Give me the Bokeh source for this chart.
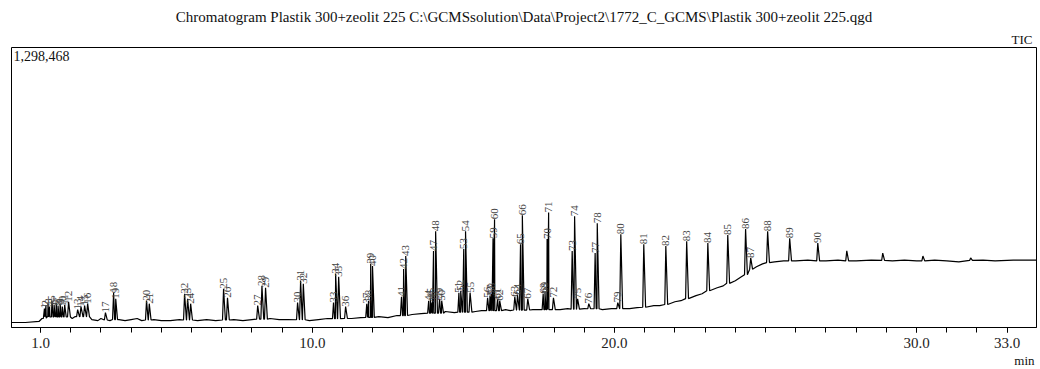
import numpy as np
from bokeh.plotting import figure
from bokeh.models import ColumnDataSource, Range1d, FixedTicker, NumeralTickFormatter, Label, Title
from bokeh.embed import file_html
from bokeh.resources import INLINE
from bokeh.core.properties import value

TITLE = "Chromatogram Plastik 300+zeolit 225 C:\\GCMSsolution\\Data\\Project2\\1772_C_GCMS\\Plastik 300+zeolit 225.qgd"
Y_MAX = 1298468
Y_LABEL = "1,298,468"

# baseline (retention time in min, intensity)
base_time = [0.04, 0.5, 0.95, 1.05, 1.2, 1.5, 1.85, 2.05, 2.15, 2.4, 2.7, 2.9, 3.0, 3.3, 3.6, 3.8,
             4.0, 4.2, 4.35, 4.75, 5.0, 5.3, 5.6, 6.2, 6.5, 6.8, 7.4, 7.7, 8.0, 8.6, 8.9, 9.2,
             9.9, 10.2, 10.5, 11.3, 11.6, 12.2, 12.5, 12.8, 13.3, 13.6, 14.4, 14.7, 15.4, 15.6,
             16.4, 16.55, 17.3, 17.5, 18.2, 18.45, 19.0, 19.6, 19.9, 20.5, 20.75, 21.3, 21.5,
             22.0, 22.2, 22.7, 22.9, 23.4, 23.6, 24.0, 24.2, 24.7, 24.9, 25.3, 25.6, 26.0, 26.4,
             27.0, 27.4, 28.0, 28.5, 29.2, 29.6, 30.0, 30.6, 31.0, 31.4, 32.2, 32.6, 33.2, 33.97]
base_int = [0, 0, 5000, 19000, 28000, 33000, 28000, 19000, 28000, 33000, 14000, 9000, 19000, 9000,
            14000, 9000, 14000, 19000, 9000, 14000, 9000, 9000, 14000, 9000, 14000, 9000, 14000,
            9000, 14000, 19000, 14000, 14000, 9000, 14000, 19000, 19000, 23000, 28000, 23000,
            33000, 38000, 42000, 52000, 47000, 52000, 56000, 61000, 56000, 61000, 61000, 61000,
            66000, 66000, 61000, 66000, 66000, 70000, 80000, 80000, 98000, 103000, 127000, 136000,
            164000, 173000, 197000, 216000, 263000, 277000, 286000, 291000, 291000, 295000,
            291000, 295000, 291000, 295000, 291000, 295000, 291000, 295000, 291000, 286000,
            295000, 291000, 295000, 295000]

# labelled peaks
peak_id = [str(i) for i in range(1, 91)]
peak_time = [1.13, 1.18, 1.25, 1.30, 1.38, 1.45, 1.52, 1.58, 1.65, 1.72, 1.80, 1.93, 2.23, 2.34,
             2.46, 2.56, 3.15, 3.42, 3.49, 4.51, 4.60, 5.77, 5.87, 5.97, 7.06, 7.19, 8.19, 8.33,
             8.45, 9.51, 9.61, 9.70, 10.70, 10.77, 10.87, 11.10, 11.80, 11.86, 11.93, 11.99,
             12.95, 13.02, 13.09, 13.85, 13.91, 13.96, 14.01, 14.08, 14.21, 14.28, 14.85, 14.91,
             15.01, 15.07, 15.22, 15.80, 15.88, 15.93, 15.98, 16.03, 16.13, 16.20, 16.70, 16.79,
             16.89, 16.95, 17.13, 17.64, 17.70, 17.77, 17.82, 17.98, 18.60, 18.68, 18.78, 19.15,
             19.36, 19.43, 20.11, 20.21, 20.97, 21.70, 22.39, 23.09, 23.75, 24.34, 24.51, 25.07,
             25.80, 26.73]
peak_apex = [66000, 80000, 89000, 75000, 103000, 84000, 94000, 80000, 89000, 75000, 84000, 98000,
             61000, 75000, 80000, 89000, 47000, 141000, 112000, 103000, 89000, 136000, 112000,
             89000, 159000, 117000, 80000, 173000, 164000, 94000, 197000, 183000, 94000, 230000,
             216000, 75000, 89000, 103000, 277000, 267000, 122000, 253000, 314000, 103000,
             112000, 94000, 338000, 431000, 112000, 103000, 141000, 150000, 347000, 431000,
             141000, 117000, 127000, 136000, 398000, 488000, 112000, 103000, 122000, 131000,
             370000, 506000, 112000, 136000, 141000, 394000, 520000, 117000, 338000, 502000,
             112000, 89000, 328000, 469000, 94000, 417000, 370000, 361000, 384000, 375000,
             413000, 441000, 305000, 431000, 398000, 375000]
peak_base = [20000] + [26000] * 11 + [28000] * 4 + [12000, 14000, 14000, 12000, 12000,
             12000, 12000, 12000, 12000, 12000, 16000, 16000, 16000, 13000, 13000, 13000,
             18000, 18000, 18000, 19000, 24000, 24000, 24000, 24000, 33000, 33000, 33000] + \
            [44000] * 7 + [49000] * 5 + [56000] * 7 + [59000] * 5 + [61000] * 5 + \
            [63000] * 3 + [65000] * 3 + [66000, 66000, 72000, 85000, 113000, 150000, 185000,
             226000, 252000, 283000, 291000, 291000]

# unlabelled late peaks
extra_time = [27.69, 28.88, 30.21, 31.79]
extra_apex = [338000, 328000, 314000, 305000]
extra_base = [291000, 293000, 291000, 293000]

tick_major = [1, 10, 20, 30, 33]
tick_minor = list(range(1, 34))

# ---- build trace from baseline points + peak feet/apex
LEFT_W, RIGHT_W = 0.035, 0.06
ts = list(base_time)
ys = list(base_int)
for t, a, b in zip(peak_time + extra_time, peak_apex + extra_apex, peak_base + extra_base):
    ts += [t - LEFT_W, t, t + RIGHT_W]
    ys += [b, a, b]
order = np.argsort(np.array(ts), kind="stable")
trace = ColumnDataSource(dict(t=np.array(ts)[order], y=np.array(ys)[order]))
labels = ColumnDataSource(dict(t=peak_time, y=peak_apex, text=peak_id))

FONT = "Liberation Serif"

p = figure(width=1040, height=369, output_backend="svg", toolbar_location=None,
           x_range=Range1d(0.04, 33.97), y_range=Range1d(-23500, Y_MAX),
           min_border_left=11, min_border_right=4, min_border_top=47, min_border_bottom=42)
p.background_fill_color = "white"
p.border_fill_color = "white"
p.outline_line_color = "black"
p.outline_line_width = 1
p.grid.visible = False
p.yaxis.visible = False

# TIC (closest to the frame) then main title
p.add_layout(Title(text="TIC", align="right", text_font=FONT, text_font_size="13px",
                   text_font_style="normal", text_color="#111111", offset=4, standoff=1), "above")
p.title.text = TITLE
p.title.align = "center"
p.title.text_font = FONT
p.title.text_font_size = "15px"
p.title.text_font_style = "normal"
p.title.text_color = "#111111"
p.title.offset = -3
p.title.standoff = 10

xa = p.xaxis[0]
xa.ticker = FixedTicker(ticks=tick_major, minor_ticks=tick_minor)
xa.formatter = NumeralTickFormatter(format="0.0")
xa.major_tick_in = 0
xa.major_tick_out = 5
xa.minor_tick_in = 0
xa.minor_tick_out = 5
xa.axis_line_color = "black"
xa.major_tick_line_color = "black"
xa.minor_tick_line_color = "black"
xa.major_label_text_font = FONT
xa.major_label_text_font_size = "15px"
xa.major_label_text_color = "#222222"
xa.major_label_standoff = 5

p.add_layout(Title(text="min", align="right", text_font=FONT, text_font_size="13px",
                   text_font_style="normal", text_color="#111111", offset=2, standoff=1), "below")

p.line("t", "y", source=trace, line_color="black", line_width=1.2)
p.text("t", "y", text="text", source=labels, angle=np.pi / 2, text_align="left",
       text_baseline="middle", text_font=value(FONT), text_font_size="11px",
       text_color="#444444")

p.add_layout(Label(x=2, y=327 - 50, x_units="screen", y_units="screen", text=Y_LABEL,
                   text_align="left", text_baseline="top", text_font=FONT,
                   text_font_size="14px", text_color="#111111"))

open("out.html", "w").write(file_html(p, INLINE))
